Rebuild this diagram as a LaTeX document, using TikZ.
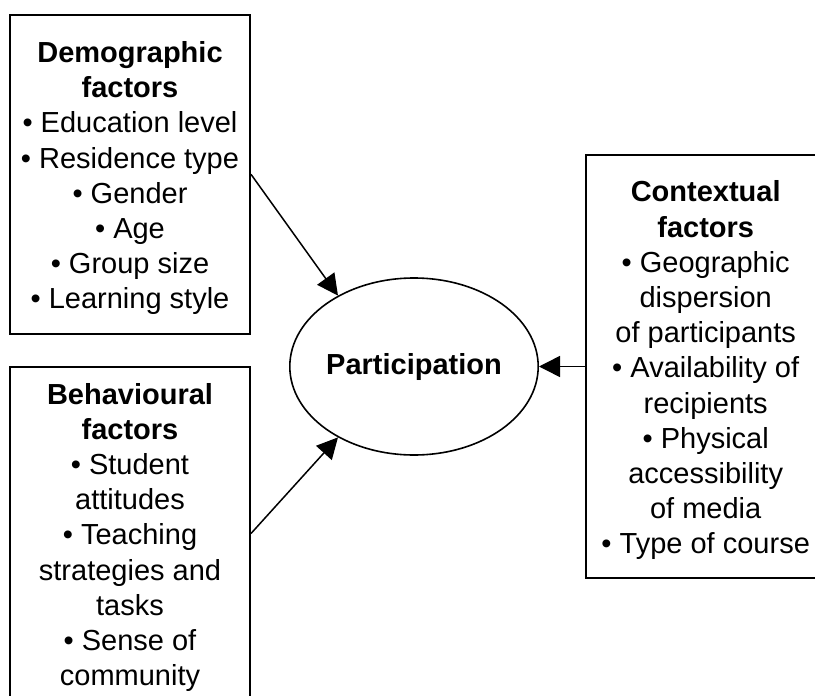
\documentclass[tikz,border=0pt]{standalone}
\usepackage{fontspec}
\setmainfont{Liberation Sans}
\usetikzlibrary{arrows.meta,shapes.geometric}
\newcommand{\firstline}{\rule{0pt}{29pt}}
\begin{document}
\begin{tikzpicture}[x=1pt,y=1pt,
  box/.style={draw, line width=2pt, align=center, inner sep=0pt, font=\fontsize{29}{35.2}\selectfont},
  bubble/.style={draw, ellipse, line width=1.6pt, minimum width=192pt, minimum height=177pt, inner sep=0pt, font=\fontsize{29}{35.2}\selectfont\bfseries},
  conn/.style={line width=1.5pt, -{Triangle[length=21pt,width=21pt]}}]
\useasboundingbox (0,0) rectangle (815,-696);
\clip (0,0) rectangle (815,-696);
\node[box, minimum width=240pt, minimum height=319.3pt] (demo) at (130,-174.3)
  {\firstline\textbf{Demographic}\\\textbf{factors}\\• Education level\\• Residence type\\• Gender\\• Age\\• Group size\\• Learning style};
\node[box, minimum width=240pt, minimum height=333pt] (beh) at (130,-533.5)
  {\firstline\textbf{Behavioural}\\\textbf{factors}\\• Student\\attitudes\\• Teaching\\strategies and\\tasks\\• Sense of\\community};
\node[box, minimum width=240pt, minimum height=423pt] (ctx) at (705.7,-366.5)
  {\firstline\textbf{Contextual}\\\textbf{factors}\\• Geographic\\dispersion\hspace*{0.28em}\\of participants\\• Availability of\\recipients\\• Physical\\accessibility\\of media\\• Type of course};
\node[bubble] (part) at (414,-366.5) {\raisebox{-8pt}{Participation}};
\draw[conn] (demo.east) -- (part.137);
\draw[conn] (beh.east) -- (part.223);
\draw[conn] (ctx.west) -- (part.east);
\end{tikzpicture}
\end{document}
